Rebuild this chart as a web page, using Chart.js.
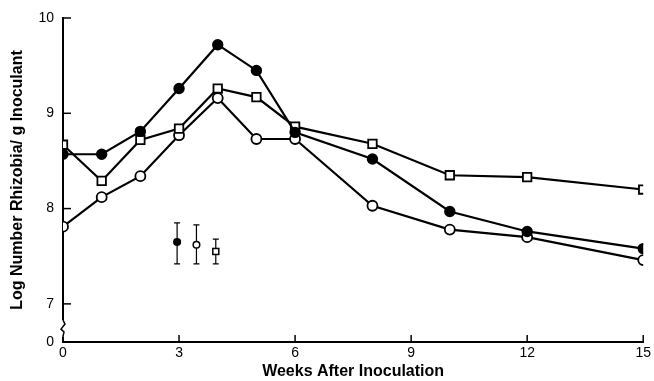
<!DOCTYPE html>
<html>
<head>
<meta charset="utf-8">
<script src="https://cdn.jsdelivr.net/npm/chart.js@4"></script>
<style>
  html, body { margin: 0; padding: 0; background: #fff; }
  #wrap { width: 654px; height: 381px; }
</style>
</head>
<body>
<div id="wrap"><canvas id="rhizobiaChart"></canvas></div>
<script>
// weeks after inoculation
const weeks = [0, 1, 2, 3, 4, 5, 6, 8, 10, 12, 15];

// log number rhizobia / g inoculant
const filledCircle = [8.57, 8.57, 8.81, 9.26, 9.72, 9.45, 8.80, 8.52, 7.97, 7.76, 7.58];
const openSquare   = [8.67, 8.29, 8.72, 8.84, 9.26, 9.17, 8.86, 8.68, 8.35, 8.33, 8.20];
const openCircle   = [7.81, 8.12, 8.34, 8.77, 9.16, 8.73, 8.73, 8.03, 7.78, 7.70, 7.46];

// error bar legend markers (x, mean, low, high)
const errX    = [2.95, 3.45, 3.95];
const errMean = [7.65, 7.62, 7.55];
const errLow  = [7.42, 7.42, 7.42];
const errHigh = [7.85, 7.83, 7.68];
const errStyle = ['filled', 'open', 'square'];

const yTicks = [7, 8, 9, 10];
const xTicks = [0, 3, 6, 9, 12, 15];
const yBottom = 6.6; // the broken axis "0"

function toXY(vals){
  return weeks.map((w, i) => ({x: w, y: vals[i]}));
}

// ticks pointing inward, axis break and the error bars
const extras = {
  id: 'extras',
  afterDatasetsDraw(chart){
    const ctx = chart.ctx;
    const xs = chart.scales.x, ys = chart.scales.y;
    const left = chart.chartArea.left, bottom = chart.chartArea.bottom;
    ctx.save();
    ctx.strokeStyle = '#000';
    ctx.lineWidth = 1.5;
    // y ticks
    yTicks.forEach(v => {
      const py = ys.getPixelForValue(v);
      ctx.beginPath(); ctx.moveTo(left, py); ctx.lineTo(left + 8, py); ctx.stroke();
    });
    // x ticks
    xTicks.forEach(v => {
      const px = xs.getPixelForValue(v);
      ctx.beginPath(); ctx.moveTo(px, bottom); ctx.lineTo(px, bottom - 7); ctx.stroke();
    });
    // axis break
    const b1 = ys.getPixelForValue(6.83), b2 = ys.getPixelForValue(6.66);
    ctx.fillStyle = '#fff';
    ctx.fillRect(left - 3, b1, 6, b2 - b1);
    ctx.lineWidth = 1.5;
    ctx.beginPath();
    ctx.moveTo(left, b1);
    ctx.lineTo(left + 2, b1 + 4);
    ctx.lineTo(left - 2, b1 + 9);
    ctx.lineTo(left + 1, b1 + 12);
    ctx.lineTo(left, b2);
    ctx.stroke();
    // error bars
    errX.forEach((x, i) => {
      const px = xs.getPixelForValue(x);
      const pLo = ys.getPixelForValue(errLow[i]);
      const pHi = ys.getPixelForValue(errHigh[i]);
      const pM = ys.getPixelForValue(errMean[i]);
      ctx.lineWidth = 1.2;
      ctx.beginPath();
      ctx.moveTo(px, pLo); ctx.lineTo(px, pHi);
      ctx.moveTo(px - 3, pLo); ctx.lineTo(px + 3, pLo);
      ctx.moveTo(px - 3, pHi); ctx.lineTo(px + 3, pHi);
      ctx.stroke();
      ctx.lineWidth = 1.5;
      if (errStyle[i] === 'square') {
        ctx.fillStyle = '#fff';
        ctx.fillRect(px - 3, pM - 3, 6, 6);
        ctx.strokeRect(px - 3, pM - 3, 6, 6);
      } else {
        ctx.fillStyle = errStyle[i] === 'filled' ? '#000' : '#fff';
        ctx.beginPath(); ctx.arc(px, pM, 3.3, 0, Math.PI * 2); ctx.fill(); ctx.stroke();
      }
    });
    ctx.restore();
  }
};

const common = {
  borderColor: '#000',
  borderWidth: 2.2,
  pointBorderWidth: 1.8,
  pointBorderColor: '#000',
  tension: 0
};

new Chart(document.getElementById('rhizobiaChart'), {
  type: 'line',
  data: {
    datasets: [
      Object.assign({label: 'filled', data: toXY(filledCircle), pointStyle: 'circle', pointRadius: 4.8, pointBackgroundColor: '#000'}, common),
      Object.assign({label: 'square', data: toXY(openSquare), pointStyle: 'rect', pointRadius: 6, pointBackgroundColor: '#fff'}, common),
      Object.assign({label: 'open', data: toXY(openCircle), pointStyle: 'circle', pointRadius: 5, pointBackgroundColor: '#fff'}, common)
    ]
  },
  options: {
    responsive: true,
    maintainAspectRatio: false,
    animation: false,
    layout: { padding: { top: 18, right: 7, left: 0, bottom: 0 } },
    plugins: { legend: { display: false }, tooltip: { enabled: false } },
    scales: {
      x: {
        type: 'linear', min: 0, max: 15,
        afterBuildTicks: s => { s.ticks = xTicks.map(v => ({value: v})); },
        grid: { display: true, drawOnChartArea: false, drawTicks: false },
        border: { display: true, color: '#000', width: 2 },
        ticks: { color: '#000', padding: 3, font: { family: 'Liberation Sans', size: 14 } },
        title: { display: true, text: 'Weeks After Inoculation', color: '#000', padding: { top: 1, bottom: 0 },
                 font: { family: 'Liberation Sans', size: 16, weight: 'bold' } },
        afterFit: s => { s.height = 39; }
      },
      y: {
        type: 'linear', min: yBottom, max: 10,
        afterBuildTicks: s => { s.ticks = [yBottom].concat(yTicks).map(v => ({value: v})); },
        grid: { display: true, drawOnChartArea: false, drawTicks: false },
        border: { display: true, color: '#000', width: 2 },
        ticks: { color: '#000', padding: 9, font: { family: 'Liberation Sans', size: 14 },
                 callback: v => (v === yBottom ? '0' : String(v)) },
        title: { display: true, text: 'Log Number Rhizobia/ g Inoculant', color: '#000', padding: { top: 8, bottom: 0 },
                 font: { family: 'Liberation Sans', size: 16, weight: 'bold' } },
        afterFit: s => { s.width = 63; }
      }
    }
  },
  plugins: [extras]
});
</script>
</body>
</html>
